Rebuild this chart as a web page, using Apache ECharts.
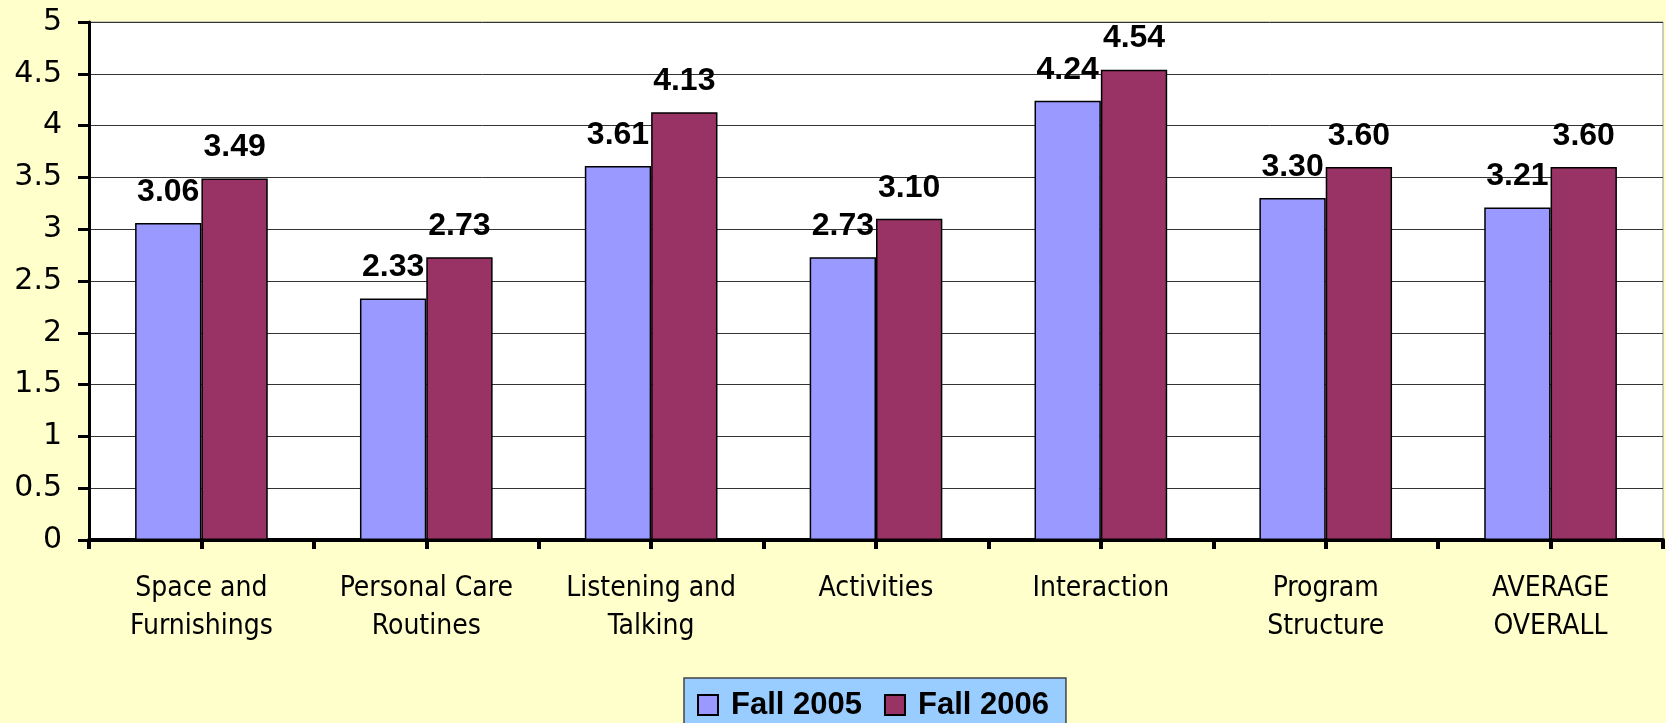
<!DOCTYPE html>
<html>
<head>
<meta charset="utf-8" />
<title>ECharts</title>
<script src="https://cdn.jsdelivr.net/npm/echarts@6.0.0/dist/echarts.min.js"></script>
<style>
body { margin: 0; background: #FFFFCC; }
</style>
</head>
<body>
<div id="main" style="width: 1666px;height:723px;"></div>
<script type="text/javascript">
var categories = ['Space and\nFurnishings', 'Personal Care\nRoutines', 'Listening and\nTalking', 'Activities', 'Interaction', 'Program\nStructure', 'AVERAGE\nOVERALL'];
var fall2005 = [3.06, 2.33, 3.61, 2.73, 4.24, 3.30, 3.21];
var fall2006 = [3.49, 2.73, 4.13, 3.10, 4.54, 3.60, 3.60];
var yTicks = [0, 0.5, 1, 1.5, 2, 2.5, 3, 3.5, 4, 4.5, 5];

var myChart = echarts.init(document.getElementById('main'));

// half-category tick marks, like the original axis
var halfTicks = [];
for (var i = 0; i < categories.length * 2; i++) halfTicks.push('');

var labelStyle = {
  show: true,
  position: 'top',
  distance: 15,
  fontFamily: 'Liberation Sans',
  fontWeight: 'bold',
  fontSize: 32,
  color: '#000',
  formatter: function (p) { return p.value.toFixed(2); }
};

option = {
  backgroundColor: '#FFFFCC',
  animation: false,
  grid: {
    left: 89, top: 22, right: 3, bottom: 183,
    show: true, backgroundColor: '#fff', borderColor: '#999', borderWidth: 1
  },
  legend: {
    top: 678,
    left: 684,
    padding: [9, 17, 12, 13],
    backgroundColor: '#99CCFF',
    borderColor: '#444',
    borderWidth: 1.5,
    borderRadius: 0,
    itemWidth: 20,
    itemHeight: 20,
    itemGap: 22,
    icon: 'rect',
    textStyle: { fontFamily: 'Liberation Sans', fontWeight: 'bold', fontSize: 31, color: '#000', lineHeight: 36, padding: [0, 0, 0, 8] },
    data: ['Fall 2005', 'Fall 2006']
  },
  xAxis: [{
    type: 'category',
    data: categories,
    axisLine: { lineStyle: { color: '#000', width: 4 } },
    axisTick: { show: false },
    axisLabel: { fontFamily: 'DejaVu Sans Condensed', fontSize: 28, color: '#000', lineHeight: 38, margin: 30, interval: 0 }
  }, {
    type: 'category',
    data: halfTicks,
    position: 'bottom',
    axisLine: { show: false },
    axisTick: { show: true, length: 9, lineStyle: { color: '#000', width: 4 } },
    axisLabel: { show: false }
  }],
  yAxis: {
    type: 'value',
    min: yTicks[0],
    max: yTicks[yTicks.length - 1],
    interval: 0.5,
    axisLine: { show: true, lineStyle: { color: '#000', width: 3 } },
    axisTick: { show: true, length: 11, lineStyle: { color: '#000', width: 3 } },
    splitLine: { lineStyle: { color: '#333', width: 1 } },
    axisLabel: { fontFamily: 'DejaVu Sans', fontSize: 30, color: '#000', margin: 27 }
  },
  series: [{
    name: 'Fall 2005',
    type: 'bar',
    data: fall2005,
    barGap: '0%',
    barCategoryGap: '41%',
    itemStyle: { color: '#9999FF', borderColor: '#000', borderWidth: 1.5 },
    label: labelStyle
  }, {
    name: 'Fall 2006',
    type: 'bar',
    data: fall2006,
    itemStyle: { color: '#993366', borderColor: '#000', borderWidth: 1.5 },
    label: labelStyle
  }]
};

myChart.setOption(option);
</script>
</body>
</html>
